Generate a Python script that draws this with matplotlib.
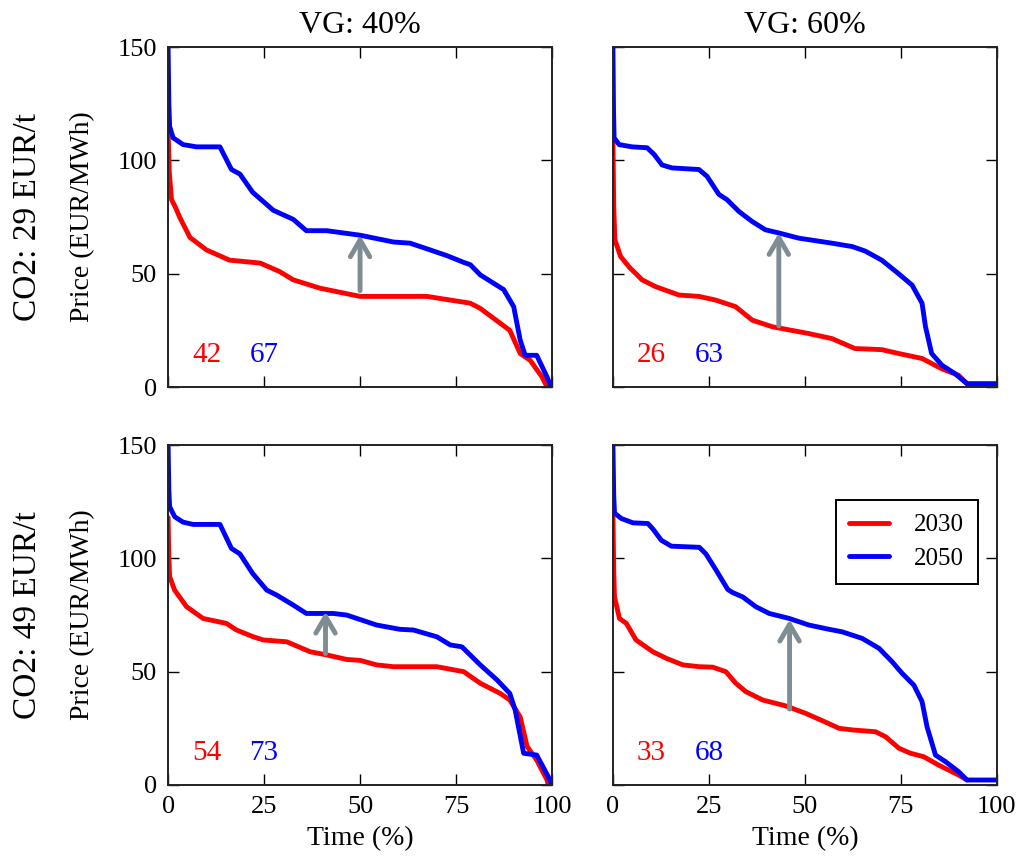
import matplotlib
matplotlib.use("Agg")
import matplotlib.pyplot as plt

plt.rcParams['font.family'] = ['Liberation Serif', 'DejaVu Serif']

# --- data (time %, price EUR/MWh) ---
# VG 40%, CO2 29 EUR/t
tl_x_2030 = [0, 0.3, 0.9, 2, 3, 5.7, 10, 16, 24, 29, 32.6, 39.6, 50, 67.4, 78.7, 81.3, 84.8, 89, 91.7, 94.3, 97.4, 98.7]
tl_y_2030 = [113, 95, 82.7, 79, 75, 66, 60.5, 56, 54.7, 51, 47.3, 43.6, 40, 40, 37, 34.7, 30.3, 25, 14.8, 11.8, 4.4, 0]
tl_x_2050 = [0, 0.2, 0.4, 1.3, 3.9, 7.4, 13.5, 16.5, 18.7, 22, 27.4, 32.6, 36, 41.3, 50, 58.7, 63, 67.4, 72.6, 77,
             78.7, 81.3, 87.4, 90, 91.7, 93, 96, 98.7, 99.6, 100]
tl_y_2050 = [150, 125, 115, 110, 107, 106, 106, 96, 94, 86, 78, 74, 69, 69, 67, 64, 63.5, 61, 58, 55,
             54, 49.5, 43, 35.5, 20.7, 14, 14, 4.4, 0.7, 0]

# VG 60%, CO2 29 EUR/t
tr_x_2030 = [0, 0.2, 0.5, 2, 4.2, 7.6, 11.1, 17.2, 22.4, 26.7, 31.9, 36.3, 41.5, 51, 57, 63, 70, 74.4, 80.5, 85.7,
             90, 92.2]
tr_y_2030 = [109, 80, 65, 57.6, 53, 47.3, 44.3, 40.6, 40, 38.4, 35.5, 29.5, 26.6, 23.6, 21.4, 17, 16.5, 14.8, 12.6, 8,
             5.2, 1.5]
tr_x_2050 = [0, 0.15, 0.3, 1.6, 5, 8.9, 10.7, 12.8, 15.4, 22.4, 24.5, 27.6, 29.7, 32.8, 36.3, 39.7, 43.2, 48.4, 57,
             62.3, 65.7, 70, 74.4, 77.9, 80.5, 81.4, 83, 85.7, 89, 92.2, 100]
tr_y_2050 = [150, 122, 110, 107, 106, 105.6, 102.7, 98, 96.7, 96, 93, 85, 82.7, 77.5, 73, 69.4, 68, 65.7, 63.5,
             62, 60, 56, 50, 45, 37, 26.6, 14.8, 9.6, 6, 1.5, 1.5]

# VG 40%, CO2 49 EUR/t
bl_x_2030 = [0, 0.2, 0.4, 1.7, 4.8, 9.1, 15.2, 17.8, 22.2, 24.8, 30.9, 37, 41.3, 46.5, 50, 54.3, 58.7, 70, 77,
             81.3, 86.5, 89, 91.7, 93.5, 96, 98.7, 99]
bl_y_2030 = [118, 100, 92, 86, 78.7, 73.5, 71.3, 68.4, 65.4, 64, 63.2, 58.8, 57.4, 55.4, 55, 53, 52.2, 52.2, 50,
             44.9, 40.4, 37.5, 30, 17, 11, 2.2, 0]
bl_x_2050 = [0, 0.2, 0.4, 1.7, 3.9, 6.5, 13.5, 16.5, 18.7, 22, 25.7, 28.3, 32.6, 36, 43, 46.5, 54.3, 60.4, 63.9,
             70, 73.5, 76.5, 81.3, 85.7, 89, 90.4, 92.6, 96, 99, 100]
bl_y_2050 = [150, 130, 122.8, 118.4, 116, 115, 115, 104.4, 102, 93.4, 86, 83.8, 79.4, 75.7, 75.7, 75, 70.6, 68.7, 68.4,
             65.4, 61.8, 61, 53, 46.3, 40.4, 33, 14, 13.2, 3.7, 0]

# VG 60%, CO2 49 EUR/t
br_x_2030 = [0, 0.2, 0.4, 1.7, 3.5, 6, 10.4, 13.9, 18.2, 22.5, 26, 29.4, 32, 34.6, 39, 45, 50.2, 54.5, 58.9,
             62.3, 68.4, 71, 74.5, 77.5, 80.9, 84.8, 90, 92.2]
br_y_2030 = [119, 95, 83, 73.5, 71.3, 64, 58.8, 55.9, 53, 52.2, 52, 50, 44.9, 41.2, 37.5, 34.9, 31.6, 28.4, 25,
             24.3, 23.5, 21.3, 16.2, 14, 12.5, 8.8, 4.4, 2.2]
br_x_2050 = [0, 0.2, 0.4, 2.2, 5.2, 9.1, 10.4, 12.6, 15.2, 22.5, 24.2, 26.8, 29.9, 31.2, 33.8, 37.2, 40.7, 45.9,
             51, 56.3, 59.7, 64.9, 69.3, 72.7, 75.3, 78.4, 80.5, 81.8, 84, 86.6, 90, 92.2, 100]
br_y_2050 = [150, 128, 120, 117.6, 115.7, 115.4, 113, 108, 105.4, 104.9, 102, 95, 86.3, 84.9, 83, 78.7, 75.7, 73.5,
             70.6, 68.7, 67.6, 64.7, 60.3, 54.4, 49.3, 44, 36.8, 25.7, 13.2, 10.3, 5.9, 2.2, 2.2]

# mean prices printed in each panel (2030, 2050)
means_2030 = [42, 26, 54, 33]
means_2050 = [67, 63, 73, 68]

# arrows: x position, start (2030 curve), end (2050 curve)
arrow_x = [50, 43.2, 41, 46]
arrow_y0 = [42.5, 27, 58, 33.5]
arrow_y1 = [67, 68, 76.5, 73]

col_titles = ['VG: 40%', 'VG: 60%']
row_labels = ['CO2: 29 EUR/t', 'CO2: 49 EUR/t']
years = ['2030', '2050']

panels = [
    (tl_x_2030, tl_y_2030, tl_x_2050, tl_y_2050),
    (tr_x_2030, tr_y_2030, tr_x_2050, tr_y_2050),
    (bl_x_2030, bl_y_2030, bl_x_2050, bl_y_2050),
    (br_x_2030, br_y_2030, br_x_2050, br_y_2050),
]

fig = plt.figure(figsize=(10.25, 8.67), dpi=100)

lefts = [0.164, 0.598]
bottoms = [0.5536, 0.0946]
w, h = 0.3746, 0.392

for i, (x1, y1, x2, y2) in enumerate(panels):
    r, c = divmod(i, 2)
    ax = fig.add_axes([lefts[c], bottoms[r], w, h])
    ax.plot(x1, y1, color='#ff0000', lw=3.5, label=years[0],
            solid_joinstyle='round', solid_capstyle='round')
    ax.plot(x2, y2, color='#0000ff', lw=3.5, label=years[1],
            solid_joinstyle='round', solid_capstyle='round')
    ax.set_xlim(0, 100)
    ax.set_ylim(0, 150)
    ax.set_xticks([0, 25, 50, 75, 100])
    ax.set_yticks([0, 50, 100, 150])
    ax.tick_params(direction='in', length=8, width=1, top=True, right=True,
                   labelsize=19, pad=8)
    for s in ax.spines.values():
        s.set_linewidth(1.4)
        s.set_color('#222222')
    if r == 0:
        ax.set_xticklabels([])
        ax.set_title(col_titles[c], fontsize=23, pad=10)
    else:
        ax.set_xlabel('Time (%)', fontsize=20, labelpad=6)
    if c == 1:
        ax.set_yticklabels([])

    ax.text(10, 11, str(means_2030[i]), color='#ff0000', fontsize=21, ha='center', va='baseline')
    ax.text(25, 11, str(means_2050[i]), color='#0000ff', fontsize=21, ha='center', va='baseline')

    ax.annotate('', xy=(arrow_x[i], arrow_y1[i]), xytext=(arrow_x[i], arrow_y0[i]),
                arrowprops=dict(arrowstyle='->,head_length=0.6,head_width=0.35',
                                color='#7f8c93', lw=3.5, mutation_scale=20,
                                shrinkA=0, shrinkB=0, capstyle='round', joinstyle='round'))

    if i == 3:
        leg = ax.legend(loc='upper right', bbox_to_anchor=(0.951, 0.838), borderaxespad=0,
                        fontsize=18, fancybox=False, framealpha=1, edgecolor='black',
                        handlelength=1.6, handletextpad=1.0, borderpad=0.55, labelspacing=0.45)
        leg.get_frame().set_linewidth(1.4)

# row labels
for r in range(2):
    yc = bottoms[r] + h / 2
    fig.text(0.027, yc, row_labels[r], rotation=90, fontsize=24, ha='center', va='center')
    fig.text(0.081, yc, 'Price (EUR/MWh)', rotation=90, fontsize=20, ha='center', va='center')

fig.savefig('out.png', dpi=100)
